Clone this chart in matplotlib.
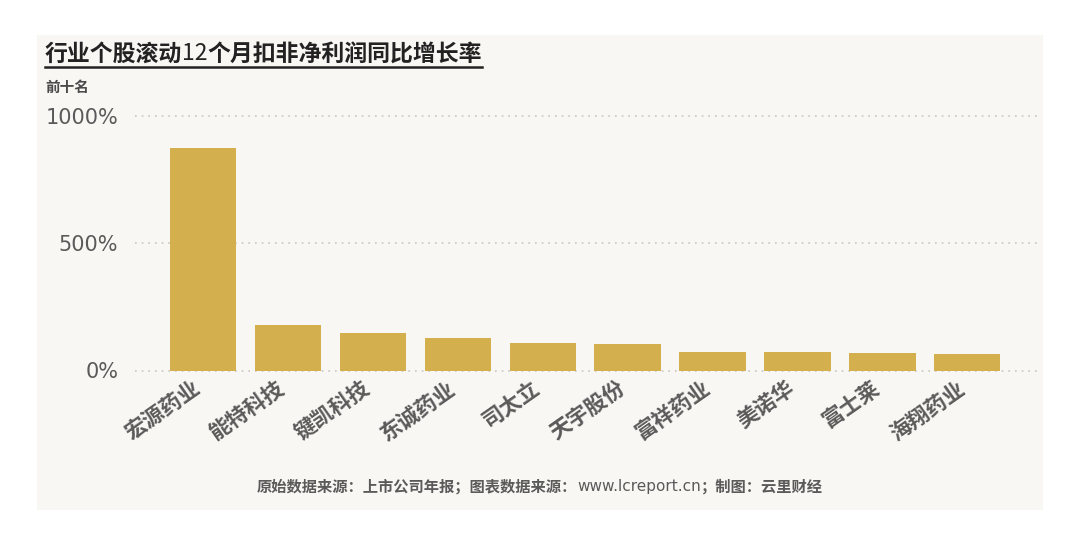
import matplotlib
matplotlib.use("Agg")
import matplotlib.pyplot as plt
import matplotlib.transforms as mtransforms
from matplotlib.patches import Rectangle
from matplotlib.lines import Line2D

plt.rcParams['font.family'] = ['Noto Sans CJK SC', 'DejaVu Sans']

# 数据
companies = ['宏源药业', '能特科技', '键凯科技', '东诚药业', '司太立',
             '天宇股份', '富祥药业', '美诺华', '富士莱', '海翔药业']
growth = [874, 179, 149, 129, 107, 103, 74, 72, 68, 65]
yticks = [0, 500, 1000]
ytick_labels = ['0%', '500%', '1000%']

title_parts = [('行业个股滚动', 'bold', None), ('12', 'normal', None),
               ('个月扣非净利润同比增长率', 'bold', None)]
subtitle = '前十名'
footer_parts = [('原始数据来源：上市公司年报；图表数据来源：', 'bold', None),
                ('www.lcreport.cn', 'normal', 'DejaVu Sans'), ('；制图：云里财经', 'bold', None)]

bar_color = '#d3b04d'
bg_color = '#f9f7f4'
text_gray = '#5a5a5a'

fig = plt.figure(figsize=(10.8, 5.45), dpi=100)
fig.patch.set_facecolor('white')

# 背景面板
W, H = 1080, 545
fig.patches.append(Rectangle((37 / W, 1 - 510 / H), (1043 - 37) / W, (510 - 35) / H,
                             transform=fig.transFigure, facecolor=bg_color,
                             edgecolor='none', zorder=-5))

ax = fig.add_axes([135 / W, 1 - 370.5 / H, (1037 - 135) / W, (370.5 - 116) / H])
ax.set_facecolor('none')
ax.set_zorder(2)

x = list(range(len(companies)))
ax.bar(x, growth, width=0.78, color=bar_color, zorder=2)

for t in yticks:
    ax.axhline(t, color='#c9c6c0', linestyle=(0, (1, 3)), linewidth=1.2,
               clip_on=False, zorder=1)

ax.set_xlim(-0.8, 9.82)
ax.set_ylim(0, 1000)
ax.set_yticks(yticks)
ax.set_yticklabels(ytick_labels, fontsize=15, color=text_gray, family='DejaVu Sans')
ax.set_xticks(x)
ax.set_xticklabels(companies, rotation=35, ha='right', rotation_mode='anchor',
                   fontsize=15.5, fontweight='bold', color=text_gray)
ax.tick_params(axis='both', length=0)
ax.tick_params(axis='y', pad=12)
ax.tick_params(axis='x', pad=5)
shift = mtransforms.ScaledTranslation(-11 / 100, 0, fig.dpi_scale_trans)
for lab in ax.get_xticklabels():
    lab.set_transform(lab.get_transform() + shift)
for s in ax.spines.values():
    s.set_visible(False)


def draw_parts(parts, x0, y0, size, color, ha='left'):
    renderer = fig.canvas.get_renderer()
    texts = []
    widths = []
    for s, w, fam in parts:
        kw = {'family': fam} if fam else {}
        t = fig.text(0, y0, s, fontsize=size, fontweight=w, color=color, va='center', **kw)
        widths.append(t.get_window_extent(renderer).width)
        texts.append(t)
    total = sum(widths)
    start = x0 * W if ha == 'left' else x0 * W - total / 2
    pos = start
    for t, wd in zip(texts, widths):
        t.set_x(pos / W)
        pos += wd
    return start, total


# 标题（带下划线）
start, total = draw_parts(title_parts, 45 / W, 1 - 54 / H, 16.5, '#222222')
fig.lines.append(Line2D([start / W, (start + total) / W], [1 - 67 / H, 1 - 67 / H],
                        transform=fig.transFigure, color='#222222', linewidth=1.8))

fig.text(45 / W, 1 - 87 / H, subtitle, fontsize=10.5, fontweight='bold',
         color='#4a4a4a', va='center')

draw_parts(footer_parts, 540 / W, 1 - 487 / H, 11, text_gray, ha='center')

fig.savefig('out.png', dpi=100, facecolor=fig.get_facecolor())
